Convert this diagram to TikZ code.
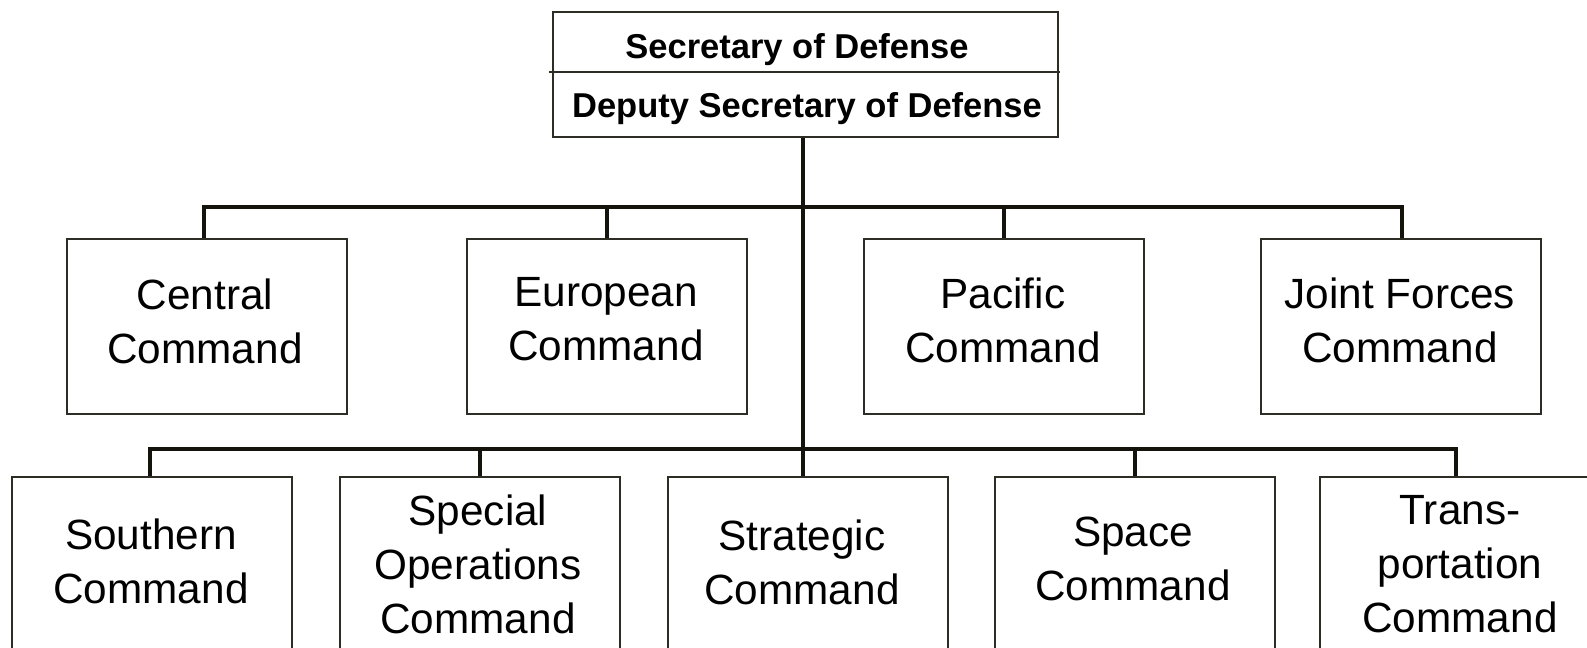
\documentclass[tikz,border=0pt]{standalone}
\usepackage{fontspec}
\setmainfont{Liberation Sans}
\definecolor{boxcol}{RGB}{45,45,38}
\definecolor{linecol}{RGB}{20,20,12}
\begin{document}
\begin{tikzpicture}[x=0.5pt,y=-0.5pt,
  box/.style={draw=boxcol, line width=0.9pt, fill=white, inner sep=0pt,
              minimum width=140pt, anchor=north west},
  midbox/.style={box, minimum height=87.5pt},
  lowbox/.style={box, minimum height=120pt},
  txt/.style={anchor=north, inner sep=0pt, align=center,
              font=\fontsize{21.15pt}{27pt}\selectfont},
  btxt/.style={anchor=base, inner sep=0pt, font=\bfseries\fontsize{17.25pt}{20pt}\selectfont},
  conn/.style={draw=linecol, line width=1.75pt},
  divider/.style={draw=boxcol, line width=0.9pt}]
\useasboundingbox (0,0) rectangle (1587,648);
\clip (0,0) rectangle (1587,648);

% top box
\node[box, minimum width=252.5pt, minimum height=62.5pt] (top) at (552,11) {};
\coordinate (dl) at (549,72);
\coordinate (dr) at (1060,72);
\draw[divider] (dl) -- (dr);
\node[btxt] (sec) at (797,58) {Secretary of Defense};
\node[btxt] (dep) at (807,117) {Deputy Secretary of Defense};

% middle row
\node[midbox] (central) at (66,238) {};
\node[midbox] (euro)    at (466,238) {};
\node[midbox] (pac)     at (863,238) {};
\node[midbox] (joint)   at (1260,238) {};
\node[txt] (tcentral) at (205,278) {Central\\Command};
\node[txt] (teuro)    at (606,277) {European\\Command};
\node[txt] (tpac)     at (1003,277) {Pacific\\Command};
\node[txt] (tjoint)   at (1400,277) {Joint Forces\\Command};

% bottom row
\node[lowbox] (south) at (11,476) {};
\node[lowbox] (spec)  at (339,476) {};
\node[lowbox] (strat) at (667,476) {};
\node[lowbox] (space) at (994,476) {};
\node[lowbox] (trans) at (1319,476) {};
\node[txt] (tsouth) at (151,518) {Southern\\Command};
\node[txt] (tspec)  at (478,494) {Special\\Operations\\Command};
\node[txt] (tstrat) at (802,519) {Strategic\\Command};
\node[txt] (tspace) at (1133,517) {Space\\Command};
\node[txt] (ttrans) at (1460,495) {Trans-\\portation\\Command};

% connectors
\coordinate (bus1) at (803,207);
\coordinate (bus2) at (803,449);
\draw[conn] (top.south -| bus1) -- (bus1 |- strat.north);
\draw[conn] ([xshift=-1.5pt]central.north) |- (bus1) -| ([xshift=0.5pt]joint.north);
\draw[conn] (euro.north) -- (euro.north |- bus1);
\draw[conn] (pac.north) -- (pac.north |- bus1);
\draw[conn] ([xshift=-1pt]south.north) |- (bus2) -| ([xshift=-2pt]trans.north);
\draw[conn] (spec.north) -- (spec.north |- bus2);
\draw[conn] (space.north) -- (space.north |- bus2);
\end{tikzpicture}
\end{document}
